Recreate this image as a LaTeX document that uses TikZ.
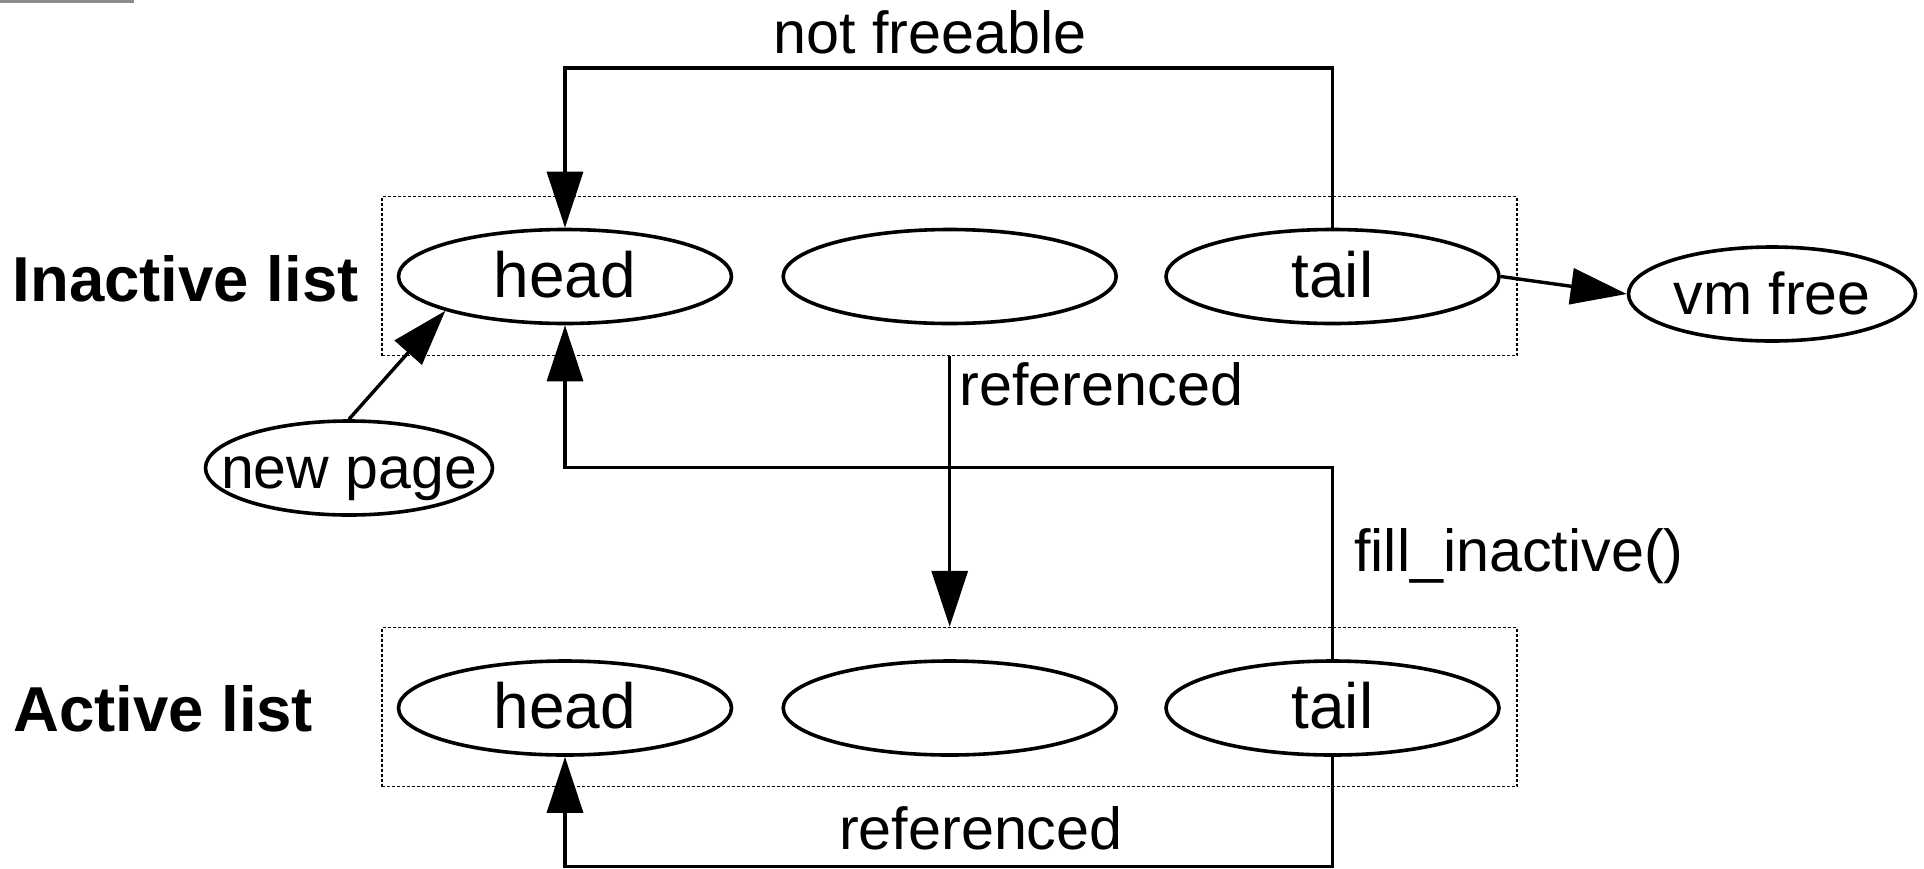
\documentclass[tikz,border=0pt]{standalone}
\usepackage{fontspec}
\setmainfont{Liberation Sans}
\usetikzlibrary{arrows.meta,shapes.geometric}
\begin{document}
\begin{tikzpicture}[x=1pt,y=-1pt,
  ell/.style={draw,ellipse,line width=3.6pt,inner sep=0pt,minimum width=333pt,minimum height=94pt,text height=41pt,text depth=0pt,font=\fontsize{64}{70}\selectfont},
  sell/.style={draw,ellipse,line width=3.6pt,inner sep=0pt,minimum width=287pt,minimum height=94pt,text height=40pt,text depth=0pt,font=\fontsize{59}{65}\selectfont},
  listbox/.style={draw,line width=1.5pt,dash pattern=on 3pt off 2pt,minimum width=1135pt,minimum height=159pt,inner sep=0pt},
  arr/.style={line width=3.4pt,-{Triangle[length=56pt,width=36pt]}},
  lbl/.style={anchor=base west,inner sep=0pt,font=\fontsize{59.3}{65}\selectfont},
  ttl/.style={anchor=base west,inner sep=0pt,font=\fontsize{63.5}{70}\selectfont\bfseries}]
\useasboundingbox (0,0) rectangle (1924,868);
\fill[gray!90] (0,0) rectangle (134,3);
% list boxes
\node[listbox] (ibox) at (949.7,276) {};
\node[listbox] (abox) at (949.7,707) {};
% ellipses
\node[ell] (ihead) at (565,276.5) {\makebox[0pt]{head}};
\node[ell] (imid) at (949.7,276.5) {};
\node[ell] (itail) at (1332.5,276.5) {\makebox[0pt]{tail}};
\node[ell] (ahead) at (565,708) {\makebox[0pt]{head}};
\node[ell] (amid) at (949.7,708) {};
\node[ell] (atail) at (1332.5,708) {\makebox[0pt]{tail}};
\node[sell] (vm) at (1772,294) {\makebox[0pt]{vm free}};
\node[sell] (np) at (349,468) {\makebox[0pt]{new page}};
% titles
\node[ttl] (tin) at (12.5,301.7) {Inactive list};
\node[ttl] (tac) at (13,731.7) {Active list};
% labels
\node[lbl] (lnf) at (773,53.3) {not freeable};
\node[lbl] (lr1) at (959.5,405) {referenced};
\node[lbl] (lfi) at (1354,571.7) {fill\_inactive()};
\node[lbl] (lr2) at (838.9,849.3) {referenced};
% helper coordinates
\coordinate (nfc) at (949,68);
\coordinate (fc) at (949,467.5);
\coordinate (bc) at (949,866.3);
% connectors
\draw[arr] (itail.north) |- (nfc) -| (ihead.north);
\draw[arr] (ibox.south) -- (abox.north);
\draw[arr] (atail.north) |- (fc) -| (ihead.south);
\draw[arr] (atail.south) |- (bc) -| (ahead.south);
\draw[arr] (itail.east) -- (vm.west);
\draw[arr] (np.north) -- (ihead.196);
\end{tikzpicture}
\end{document}
